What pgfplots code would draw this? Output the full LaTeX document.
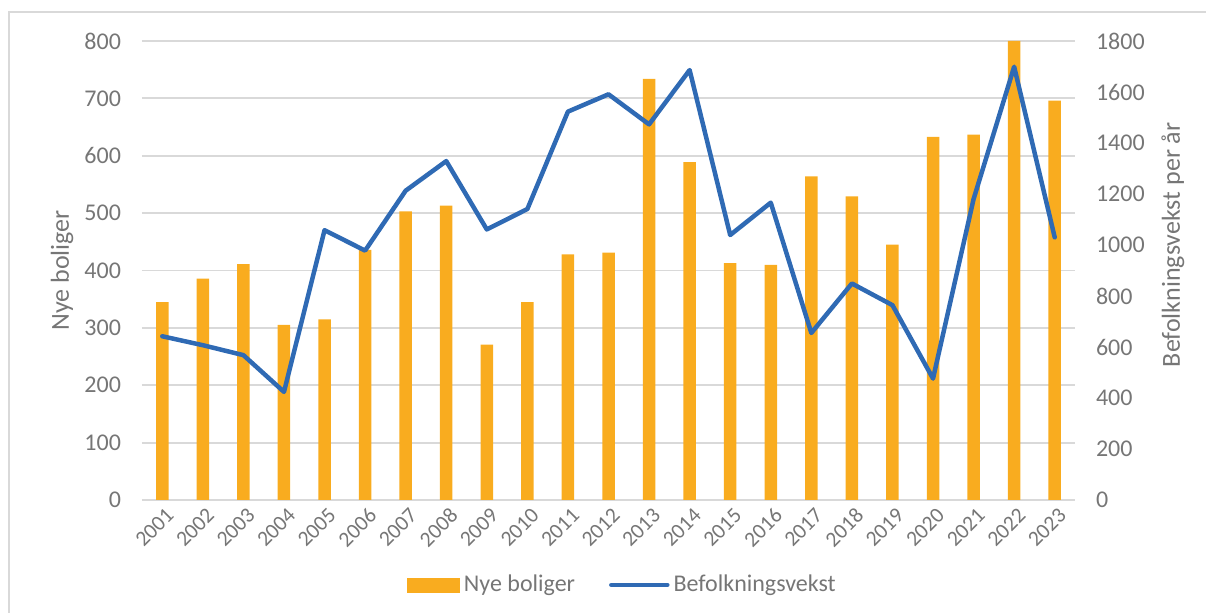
\documentclass[border=0pt]{standalone}
\usepackage{pgfplots}
\pgfplotsset{compat=1.18}
\usepackage{pgfplotstable}
\usepackage{fontspec}
\setmainfont{Carlito}
\definecolor{barOrange}{HTML}{F9AC1F}
\definecolor{lineBlue}{HTML}{2F6AB4}
\definecolor{txtGray}{HTML}{767676}
\definecolor{gridGray}{HTML}{D9D9D9}

\pgfplotstableread{
idx year bol vekst
0  2001 345 642
1  2002 386 607
2  2003 411 568
3  2004 305 424
4  2005 315 1058
5  2006 436 978
6  2007 503 1213
7  2008 513 1329
8  2009 271 1061
9  2010 345 1141
10 2011 428 1523
11 2012 431 1591
12 2013 734 1473
13 2014 589 1686
14 2015 413 1039
15 2016 410 1166
16 2017 564 655
17 2018 529 849
18 2019 445 764
19 2020 633 476
20 2021 637 1180
21 2022 800 1699
22 2023 696 1030
}\data

\begin{document}
\begin{tikzpicture}[font=\fontsize{12}{14}\selectfont]
  \path[use as bounding box] (-71pt,-56.5pt) rectangle (532pt,250pt);
  \draw[gridGray, line width=0.8pt] (-66.5pt,-80pt) rectangle (545pt,244pt);

  \begin{axis}[
      at={(0,0)}, anchor=south west,
      width=466.5pt, height=229.5pt, scale only axis,
      xmin=-0.5, xmax=22.5, ymin=0, ymax=800,
      ytick distance=100,
      xtick={0,...,22},
      xticklabels from table={\data}{year},
      xticklabel style={rotate=45, anchor=east, xshift=2pt, yshift=-7pt,
        font=\fontsize{10.8}{12}\selectfont},
      yticklabel style={xshift=-7pt},
      axis line style={draw=none},
      major tick length=0pt,
      ymajorgrids, grid style={gridGray, line width=0.9pt},
      ticklabel style={text=txtGray},
      yticklabel style={font=\fontsize{12}{14}\selectfont},
      /pgf/number format/assume math mode=true,
      ylabel={Nye boliger},
      ylabel style={at={(-0.0857,0.5)}, anchor=center, text=txtGray, font=\fontsize{13}{15}\selectfont},
      clip=false,
    ]
    \addplot[ybar, bar width=6.25pt, fill=barOrange, draw=none] table[x=idx, y=bol] {\data};
  \end{axis}

  \begin{axis}[
      at={(0,0)}, anchor=south west,
      width=466.5pt, height=229.5pt, scale only axis,
      xmin=-0.5, xmax=22.5, ymin=0, ymax=1800,
      ytick distance=200,
      axis x line=none,
      axis y line*=right,
      axis line style={draw=none},
      major tick length=0pt,
      yticklabel style={xshift=7pt, text=txtGray, font=\fontsize{12}{14}\selectfont},
      /pgf/number format/assume math mode=true,
      /pgf/number format/1000 sep={},
      ylabel={Befolkningsvekst per år},
      ylabel style={at={(1.105,0.556)}, anchor=center, rotate=0, text=txtGray, font=\fontsize{13}{15}\selectfont},
      legend columns=2,
      legend style={at={(0.516,-0.185)}, anchor=center, draw=none, fill=none,
        font=\fontsize{12}{14}\selectfont, text=txtGray,
        /tikz/every even column/.append style={column sep=15pt}},
      clip=false,
    ]
    \addlegendimage{legend image code/.code={\fill[barOrange] (0pt,-3.5pt) rectangle (26pt,3.5pt);}}
    \addlegendentry{Nye boliger}
    \addplot[lineBlue, line width=2.25pt, line join=round, line cap=round, mark=none,
      legend image code/.code={\draw[lineBlue, line width=2.25pt, line cap=round] (0pt,0pt) -- (28pt,0pt);}]
      table[x=idx, y=vekst] {\data};
    \addlegendentry{Befolkningsvekst}
  \end{axis}
\end{tikzpicture}
\end{document}
